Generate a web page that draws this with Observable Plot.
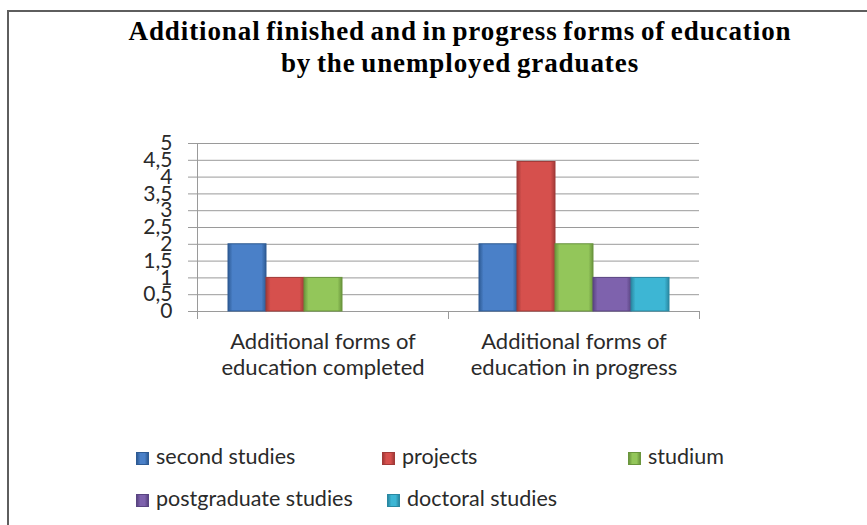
<!DOCTYPE html>
<html>
<head>
<meta charset="utf-8">
<script src="https://cdn.jsdelivr.net/npm/d3@7"></script>
<script src="https://cdn.jsdelivr.net/npm/@observablehq/plot@0.6"></script>
<style>
  body { margin: 0; background: #fff; }
  #wrap { position: relative; width: 867px; height: 525px; overflow: hidden; background: #fff; }
  #frame { position: absolute; left: 7px; top: 10px; width: 1000px; height: 1000px;
           border-top: 2px solid #5e5e5e; border-left: 2px solid #5e5e5e; }
  #title { position: absolute; left: 0; top: 15px; width: 920px; text-align: center;
           font-family: "Liberation Serif", serif; font-weight: bold; font-size: 27px;
           letter-spacing: 0.9px; word-spacing: -2px; line-height: 32px; color: #000; }
  #chart { position: absolute; left: 0; top: 0; }
  .leg { position: absolute; font-family: Lato, sans-serif; font-size: 21.5px; line-height: 26px;
         color: #2a2a2a; white-space: nowrap; }
  .sw { display: inline-block; width: 13px; height: 13px; margin-right: 7px; vertical-align: -1px;
        box-sizing: border-box; }
</style>
</head>
<body>
<div id="wrap">
  <div id="frame"></div>
  <div id="title">Additional finished and in progress forms of education<br>by the unemployed graduates</div>
  <div id="chart"></div>
</div>
<script>
// ---- data ----
const categories = ["Additional forms of education completed", "Additional forms of education in progress"];
const categoryLines = [["Additional forms of", "education completed"], ["Additional forms of", "education in progress"]];
const series = ["second studies", "projects", "studium", "postgraduate studies", "doctoral studies"];
const completedValues = [2, 1, 1, 0, 0];
const inProgressValues = [2, 4.45, 2, 1, 1];
const yTicks = [0, 0.5, 1, 1.5, 2, 2.5, 3, 3.5, 4, 4.5, 5];
const yTickLabels = ["0", "0,5", "1", "1,5", "2", "2,5", "3", "3,5", "4", "4,5", "5"];
const seriesColors = ["#4a80c8", "#d6504d", "#93c65a", "#7e62ad", "#3db6d4"];
const seriesEdges = ["#2e5b94", "#a23a38", "#6a953d", "#5a4582", "#2a88a2"];

// ---- table ----
const table = [];
series.forEach((s, i) => {
  table.push({category: categories[0], series: s, value: completedValues[i]});
  table.push({category: categories[1], series: s, value: inProgressValues[i]});
});
const bars = table.filter(d => d.value > 0);
const gradIds = series.map((s, i) => `url(#grad${i})`);

const chart = Plot.plot({
  width: 867,
  height: 525,
  marginLeft: 197,
  marginRight: 168,
  marginTop: 143,
  marginBottom: 214,
  style: {background: "transparent", overflow: "visible"},
  fx: {domain: categories, padding: 0, label: null},
  x: {domain: series, paddingInner: 0, paddingOuter: 0.76, axis: null},
  y: {domain: [0, 5], label: null},
  color: {domain: series, range: gradIds},
  marks: [
    Plot.gridY(yTicks, {stroke: "#9a9a9a", strokeOpacity: 1, strokeWidth: 1}),
    Plot.axisY(yTicks, {
      tickFormat: (d) => yTickLabels[yTicks.indexOf(d)],
      tickSize: 9, tickPadding: 16, fontSize: 21, fontFamily: "Lato",
      stroke: "#9a9a9a", fill: "#2a2a2a", label: null
    }),
    Plot.frame({anchor: "left", facetAnchor: "left", stroke: "#9a9a9a"}),
    Plot.frame({anchor: "left", stroke: "#9a9a9a", insetTop: 168, insetBottom: -7}),
    Plot.frame({anchor: "right", stroke: "#9a9a9a", insetTop: 168, insetBottom: -7}),
    Plot.ruleY([0], {stroke: "#9a9a9a"}),
    Plot.barY(bars, {
      fx: "category", x: "series", y: "value", fill: "series",
      stroke: (d) => seriesEdges[series.indexOf(d.series)], strokeWidth: 1
    }),
    Plot.axisFx({
      anchor: "bottom", tickSize: 0, tickPadding: 19, fontSize: 22, fontFamily: "Lato",
      lineHeight: 1.18, fill: "#2a2a2a", label: null,
      tickFormat: (d) => categoryLines[categories.indexOf(d)].join("\n")
    })
  ]
});

// bevel-like gradients for bars
const ns = "http://www.w3.org/2000/svg";
const defs = document.createElementNS(ns, "defs");
series.forEach((s, i) => {
  const g = document.createElementNS(ns, "linearGradient");
  g.setAttribute("id", `grad${i}`);
  g.setAttribute("x1", "0"); g.setAttribute("x2", "1");
  g.setAttribute("y1", "0"); g.setAttribute("y2", "0");
  [[0, seriesEdges[i]], [0.12, seriesColors[i]], [0.88, seriesColors[i]], [1, seriesEdges[i]]].forEach(([o, c]) => {
    const st = document.createElementNS(ns, "stop");
    st.setAttribute("offset", o);
    st.setAttribute("stop-color", c);
    g.appendChild(st);
  });
  defs.appendChild(g);
});
chart.insertBefore(defs, chart.firstChild);
document.getElementById("chart").appendChild(chart);

// ---- legend ----
const legendPos = [[136, 443], [382, 443], [628, 443], [136, 485], [387, 485]];
const wrap = document.getElementById("wrap");
series.forEach((s, i) => {
  const el = document.createElement("div");
  el.className = "leg";
  el.style.left = legendPos[i][0] + "px";
  el.style.top = legendPos[i][1] + "px";
  const sw = document.createElement("span");
  sw.className = "sw";
  sw.style.background = `linear-gradient(to right, ${seriesEdges[i]}, ${seriesColors[i]} 30%, ${seriesColors[i]} 70%, ${seriesEdges[i]})`;
  sw.style.border = `1px solid ${seriesEdges[i]}`;
  el.appendChild(sw);
  el.appendChild(document.createTextNode(s));
  wrap.appendChild(el);
});
</script>
</body>
</html>
